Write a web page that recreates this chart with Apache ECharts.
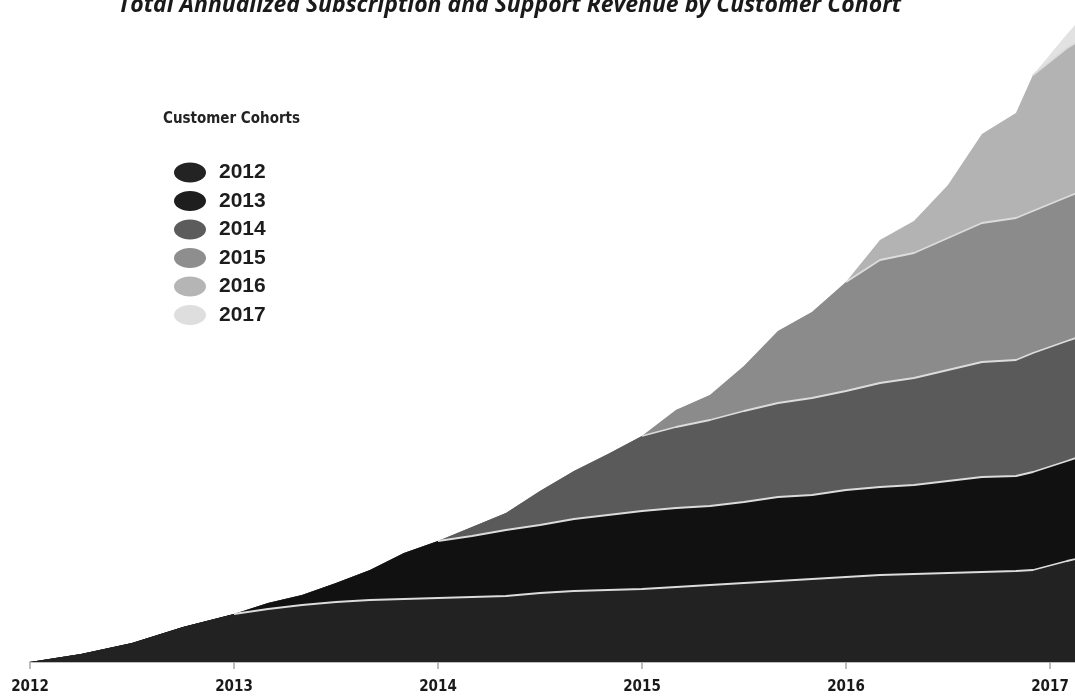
<!DOCTYPE html>
<html><head><meta charset="utf-8">
<script src="https://cdn.jsdelivr.net/npm/echarts@6/dist/echarts.min.js"></script>
<style>html,body{margin:0;padding:0;background:#fff}#c{width:1075px;height:697px}</style>
</head><body><div id="c"></div>
<script>
const months = ['2012-01','2012-04','2012-07','2012-10','2013-01','2013-03','2013-05','2013-07','2013-09','2013-11',
  '2014-01','2014-03','2014-05','2014-07','2014-09','2014-11','2015-01','2015-03','2015-05','2015-07','2015-09','2015-11',
  '2016-01','2016-03','2016-05','2016-07','2016-09','2016-11','2016-12','2017-02','2017-03'];
const cohortNames = ['2012','2013','2014','2015','2016','2017'];
const c2012 = [0,8,19,35,48,53,57,60,62,63,64,65,66,69,71,72,73,75,77,79,81,83,85,87,88,89,90,91,92,101,105];
const c2013 = [0,0,0,0,0,6,10,19,30,46,57,61,66,68,72,75,78,79,79,81,84,84,87,88,89,92,95,95,98,100,102];
const c2014 = [0,0,0,0,0,0,0,0,0,0,0,9,17,34,48,61,75,81,86,91,94,97,99,104,107,111,115,116,119,120,120];
const c2015 = [0,0,0,0,0,0,0,0,0,0,0,0,0,0,0,0,0,17,25,45,72,86,109,123,125,132,139,142,142,144,145];
const c2016 = [0,0,0,0,0,0,0,0,0,0,0,0,0,0,0,0,0,0,0,0,0,0,0,20,32,53,89,105,136,149,152];
const c2017 = [0,0,0,0,0,0,0,0,0,0,0,0,0,0,0,0,0,0,0,0,0,0,0,0,0,0,0,0,0,14,23];
const yearTicks = ['2012','2013','2014','2015','2016','2017'];
const titleText = 'Total Annualized Subscription and Support Revenue by Customer Cohort';
const legendTitle = 'Customer Cohorts';

const areaColors = ['#222222','#111111','#5a5a5a','#8b8b8b','#b3b3b3','#e2e2e2'];
const legendColors = ['#232323','#1e1e1e','#5c5c5c','#8e8e8e','#b5b5b5','#dedede'];
const xs = months.map(s => { const [y,m] = s.split('-').map(Number); return y + (m-1)/12; });
const values = [c2012,c2013,c2014,c2015,c2016,c2017];
// cumulative tops (stacking done here; drawn top cohort first so lower ones paint over)
const cum = [];
values.forEach((arr,i)=>{ cum.push(arr.map((v,k)=> v + (i>0 ? cum[i-1][k] : 0))); });

const series = [];
for (let i = cohortNames.length-1; i >= 0; i--) {
  series.push({
    name:cohortNames[i], type:'line', symbol:'none', smooth:false, clip:true,
    color:areaColors[i], z:2,
    lineStyle:{width:0, opacity:0},
    areaStyle:{color:areaColors[i], opacity:1},
    data: xs.map((x,k)=>[x, cum[i][k]])
  });
}
// light separator lines between cohorts, only where the next cohort exists
for (let i = 0; i < cohortNames.length-1; i++) {
  const next = values[i+1];
  const s = next.findIndex(v => v > 0);
  series.push({
    name:'sep'+i, type:'line', symbol:'none', clip:true, z:3, silent:true,
    lineStyle:{color:'#dcdcdc', width:1.8},
    data: xs.map((x,k)=> k >= s-1 ? [x, cum[i][k]] : [x, null])
  });
}

const chart = echarts.init(document.getElementById('c'));
chart.setOption({
  animation:false,
  backgroundColor:'#ffffff',
  title:[{
    text:titleText, left:113, top:-11,
    textStyle:{fontFamily:'Open Sans', fontStyle:'italic', fontWeight:'bold', fontSize:23, color:'#1a1a1a'}
  },{
    text:legendTitle, left:158, top:107,
    textStyle:{fontFamily:'DejaVu Sans Condensed', fontWeight:'bold', fontSize:15, color:'#222'}
  }],
  legend:{
    orient:'vertical', left:169, top:157,
    itemWidth:32, itemHeight:21, itemGap:7.5,
    icon:'path://M0,10 A16,10 0 1,0 32,10 A16,10 0 1,0 0,10 Z',
    data: cohortNames.map((n,i)=>({name:n, itemStyle:{color:legendColors[i], borderWidth:0}})),
    textStyle:{fontFamily:'Liberation Sans', fontWeight:'bold', fontSize:21, color:'#1c1c1c', padding:[0,0,0,8], lineHeight:21},
    selectedMode:false
  },
  grid:{left:30, right:0, top:20, bottom:35},
  xAxis:{
    type:'value', min:2012, max:2017+25/204, interval:1,
    axisLine:{show:true, lineStyle:{color:'#a8a8a8', width:1.5}},
    axisTick:{show:true, length:7, lineStyle:{color:'#a8a8a8', width:1.5}},
    splitLine:{show:false},
    axisLabel:{margin:18, showMaxLabel:false, fontFamily:'DejaVu Sans Condensed', fontWeight:'bold', fontSize:15, color:'#1a1a1a',
      formatter: v => yearTicks[Math.round(v)-2012] ?? ''}
  },
  yAxis:{type:'value', min:0, max:642, show:false, splitLine:{show:false}},
  series: series
});
</script></body></html>
